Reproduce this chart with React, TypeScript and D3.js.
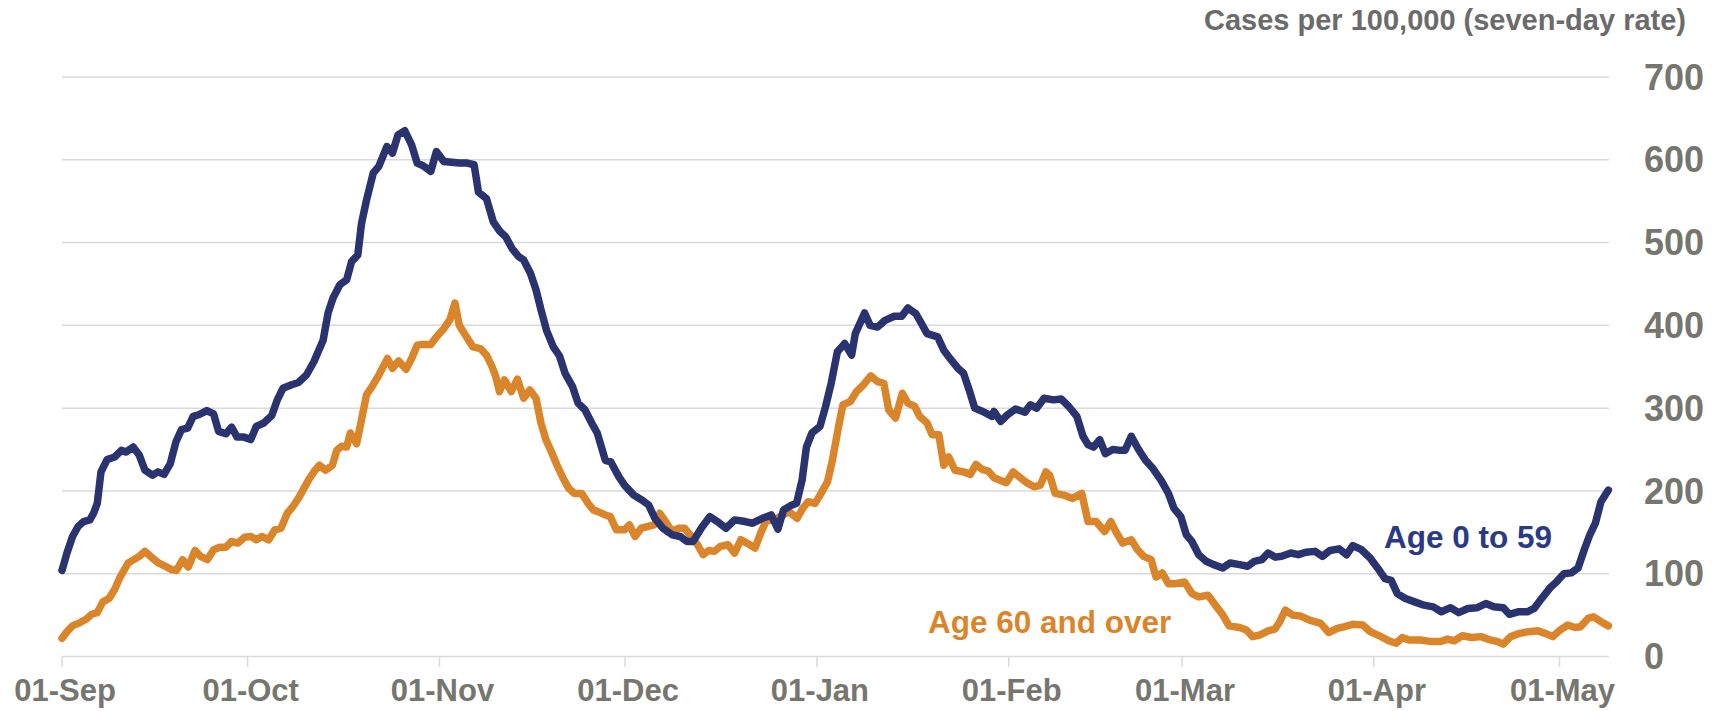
import React from "react";
import * as d3 from "d3";

// days after 01-Sep-2020
const youngDays = [0, 0.8, 1.7, 2.6, 3.5, 4.5, 5.1, 5.7, 6.3, 7.3, 8.5, 9.6, 10.3, 11.5, 12.5, 13.4, 14.6, 15.5, 16.5, 17.5, 18.4, 19.3, 20.3, 21.2, 22.1, 23.4, 24.5, 25.3, 26.5, 27.4, 28.3, 29.4, 30.5, 31.4, 32.6, 33.9, 34.8, 35.7, 37.0, 38.2, 39.5, 40.7, 42.2, 43.0, 43.8, 44.9, 46.0, 46.8, 47.8, 48.4, 49.2, 50.3, 51.2, 52.5, 53.4, 54.3, 55.4, 56.5, 57.4, 58.3, 59.6, 60.5, 61.7, 63.0, 64.2, 65.5, 66.6, 67.3, 68.6, 69.7, 70.7, 71.7, 72.8, 73.8, 74.6, 75.7, 76.6, 77.4, 78.3, 79.4, 80.4, 81.3, 82.5, 83.4, 84.5, 85.6, 86.5, 87.8, 88.7, 90.0, 90.9, 92.4, 93.7, 94.8, 95.8, 97.1, 98.6, 99.9, 101.0, 102.0, 103.3, 104.7, 105.9, 107.3, 108.7, 110.4, 111.6, 113.2, 114.6, 115.7, 116.6, 117.7, 118.7, 119.6, 120.3, 121.2, 122.5, 123.4, 124.3, 125.3, 126.5, 127.6, 128.2, 129.7, 130.6, 131.8, 133.0, 134.5, 135.7, 136.7, 138.0, 138.9, 139.8, 141.5, 142.5, 143.5, 144.8, 145.7, 146.6, 147.5, 148.8, 150.3, 150.6, 151.7, 152.8, 154.1, 155.6, 156.5, 157.5, 158.7, 160.2, 161.5, 162.7, 164.0, 165.0, 165.8, 166.7, 167.7, 168.6, 169.8, 171.1, 171.8, 172.8, 173.9, 175.1, 176.3, 177.6, 178.8, 179.7, 180.8, 181.7, 182.6, 183.7, 184.9, 186.1, 187.6, 188.8, 190.3, 191.6, 192.7, 193.9, 194.9, 196.1, 197.1, 198.6, 199.8, 201.0, 202.5, 203.7, 204.9, 206.4, 207.6, 208.6, 210.0, 211.4, 212.6, 213.8, 214.8, 215.8, 217.1, 218.6, 220.1, 221.6, 222.9, 224.4, 225.7, 227.2, 228.7, 230.1, 231.4, 232.9, 233.9, 235.3, 236.8, 237.9, 239.1, 240.6, 241.5, 242.7, 243.9, 245.0, 246.0, 246.9, 247.8, 248.7, 249.9];
const youngValues = [104, 125, 145, 157, 163, 165, 173, 185, 223, 238, 241, 249, 247, 253, 243, 225, 219, 223, 220, 233, 259, 274, 276, 290, 292, 297, 293, 272, 269, 277, 265, 265, 262, 278, 282, 291, 310, 324, 328, 331, 340, 356, 382, 415, 433, 449, 455, 477, 485, 523, 551, 584, 592, 616, 608, 630, 635, 618, 596, 593, 586, 610, 598, 597, 596, 596, 594, 561, 553, 525, 514, 507, 492, 483, 479, 463, 443, 419, 394, 374, 363, 342, 326, 306, 298, 282, 270, 237, 235, 217, 207, 195, 189, 183, 167, 155, 147, 145, 139, 139, 155, 169, 163, 155, 165, 163, 161, 167, 171, 154, 177, 182, 185, 213, 253, 270, 278, 302, 330, 368, 378, 364, 390, 415, 400, 398, 406, 411, 411, 421, 414, 402, 390, 386, 370, 360, 348, 342, 322, 300, 296, 290, 296, 284, 292, 299, 295, 304, 300, 312, 310, 311, 302, 290, 266, 256, 253, 262, 245, 250, 249, 249, 266, 251, 237, 227, 213, 197, 179, 169, 147, 139, 123, 115, 111, 107, 113, 111, 109, 115, 117, 125, 120, 121, 125, 123, 126, 127, 121, 128, 130, 123, 134, 129, 119, 107, 94, 92, 76, 70, 66, 62, 60, 54, 59, 53, 58, 59, 64, 60, 59, 51, 54, 54, 58, 70, 84, 90, 100, 101, 107, 129, 147, 161, 187, 201];

const olderDays = [0, 0.8, 1.7, 2.9, 3.9, 4.8, 5.7, 6.6, 7.6, 8.5, 9.4, 10.7, 11.6, 12.5, 13.4, 14.6, 15.6, 16.7, 17.7, 18.5, 19.5, 20.4, 21.5, 22.4, 23.5, 24.5, 25.5, 26.5, 27.4, 28.4, 29.5, 30.5, 31.4, 32.3, 33.4, 34.4, 35.4, 36.4, 37.3, 38.2, 39.1, 39.9, 40.8, 41.6, 42.6, 43.7, 44.4, 45.2, 46.0, 46.6, 47.6, 48.4, 49.2, 50.1, 51.2, 52.6, 53.4, 54.4, 55.6, 56.5, 57.4, 58.3, 59.6, 60.5, 61.7, 62.7, 63.5, 64.2, 65.2, 66.4, 67.6, 68.6, 69.5, 70.1, 70.7, 71.5, 72.6, 73.6, 74.6, 75.6, 76.6, 77.4, 78.2, 79.1, 80.0, 81.0, 81.9, 82.8, 84.0, 85.0, 85.9, 86.6, 87.8, 88.6, 89.6, 90.9, 91.7, 92.6, 93.6, 94.6, 95.7, 96.6, 97.7, 98.6, 99.7, 100.6, 101.7, 102.7, 103.6, 104.5, 105.4, 106.4, 107.6, 108.7, 109.7, 110.7, 112.0, 112.9, 113.8, 115.0, 116.3, 117.5, 118.8, 119.7, 120.6, 121.7, 122.5, 123.7, 124.5, 125.4, 126.2, 127.4, 128.4, 129.5, 130.7, 131.8, 132.8, 133.6, 134.7, 135.8, 136.7, 137.8, 138.6, 139.8, 140.6, 141.7, 142.5, 143.3, 144.3, 145.7, 146.8, 147.7, 148.7, 149.7, 150.6, 152.6, 153.7, 154.7, 155.9, 157.1, 158.1, 159.0, 159.6, 160.5, 161.9, 163.3, 164.8, 165.8, 167.1, 168.5, 169.5, 170.3, 171.4, 172.8, 173.8, 174.8, 176.0, 176.8, 177.8, 178.8, 179.9, 181.4, 182.6, 183.7, 185.2, 186.4, 187.6, 188.6, 190.3, 191.4, 192.4, 193.6, 194.9, 196.0, 196.8, 197.7, 198.9, 200.1, 201.6, 203.4, 204.7, 206.1, 207.3, 208.6, 210.2, 211.4, 212.9, 214.4, 215.6, 216.6, 217.7, 219.5, 221.3, 222.8, 223.9, 225.0, 226.3, 227.8, 229.3, 230.8, 232.0, 232.9, 234.1, 235.6, 237.0, 238.5, 239.7, 240.9, 242.1, 243.3, 244.5, 245.4, 246.6, 247.5, 248.7, 249.9];
const olderValues = [22, 30, 37, 41, 45, 51, 53, 66, 70, 81, 96, 113, 117, 121, 127, 119, 113, 109, 105, 104, 117, 108, 128, 121, 117, 129, 132, 132, 139, 137, 144, 145, 141, 145, 141, 153, 155, 173, 181, 191, 203, 214, 224, 231, 225, 231, 249, 254, 253, 270, 257, 286, 316, 326, 340, 360, 348, 357, 347, 360, 376, 377, 377, 386, 396, 407, 427, 400, 388, 374, 372, 364, 350, 338, 320, 334, 320, 335, 312, 322, 312, 282, 262, 247, 231, 215, 203, 197, 197, 185, 177, 175, 171, 169, 153, 153, 159, 145, 155, 157, 159, 173, 161, 151, 155, 155, 145, 135, 123, 128, 127, 133, 135, 125, 141, 137, 131, 149, 164, 165, 170, 175, 167, 179, 187, 185, 195, 211, 237, 274, 304, 308, 320, 328, 339, 332, 330, 298, 288, 318, 306, 302, 290, 282, 268, 268, 231, 241, 225, 223, 220, 232, 226, 224, 216, 210, 223, 217, 210, 205, 207, 223, 219, 197, 195, 191, 197, 163, 163, 151, 163, 151, 137, 141, 129, 121, 117, 96, 101, 88, 88, 90, 76, 72, 74, 62, 50, 37, 35, 32, 24, 26, 31, 33, 42, 56, 50, 49, 44, 40, 29, 34, 36, 39, 38, 30, 25, 19, 16, 23, 20, 20, 18, 18, 21, 19, 25, 23, 24, 20, 18, 15, 24, 28, 30, 31, 28, 24, 32, 38, 35, 36, 46, 48, 42, 37];

const yTicks = [0, 100, 200, 300, 400, 500, 600, 700];

const startDate = new Date(Date.UTC(2020, 8, 1));
const endDate = new Date(Date.UTC(2021, 4, 9));
const dayMs = 864e5;

const font = "'Liberation Sans', Arial, sans-serif";
const navy = "#29336f";
const orange = "#db852b";
const grey = "#76766f";

export default function App() {
  const width = 1727;
  const height = 711;

  const x = d3.scaleUtc().domain([startDate, endDate]).range([62, 1609]);
  const y = d3.scaleLinear().domain([0, 700]).range([656.5, 77]);

  const toPoints = (days: number[], vals: number[]) =>
    days.map((d, i) => [new Date(startDate.getTime() + d * dayMs), vals[i]] as [Date, number]);

  const line = d3
    .line<[Date, number]>()
    .x(d => x(d[0]))
    .y(d => y(d[1]));

  const months = d3.utcMonth.range(startDate, endDate);
  const fmt = d3.utcFormat("%d-%b");

  return (
    <svg
      width={width}
      height={height}
      style={{ position: "absolute", left: 0, top: 0, display: "block", background: "#fff" }}
      fontFamily={font}
    >
      <g className="grid">
        {yTicks.map(t => (
          <line key={t} x1={62} x2={1609} y1={y(t)} y2={y(t)} stroke="#dadada" strokeWidth={1.5} />
        ))}
      </g>
      <g className="xAxis">
        {months.map(m => (
          <g key={m.getTime()} transform={`translate(${x(m)},0)`}>
            <line y1={y(0)} y2={y(0) + 10.5} stroke="#dadada" strokeWidth={1.5} />
            <text x={3} y={701} textAnchor="middle" fontSize={31} fontWeight="bold" fill={grey}>
              {fmt(m)}
            </text>
          </g>
        ))}
      </g>
      <g className="yAxis">
        {yTicks.map(t => (
          <text key={t} x={1644} y={y(t)} dy="0.35em" fontSize={36} fontWeight="bold" fill={grey}>
            {t}
          </text>
        ))}
      </g>
      <text x={1686} y={30} textAnchor="end" fontSize={29} fontWeight="bold" fill="#6b6b6b">
        Cases per 100,000 (seven-day rate)
      </text>

      <path
        d={line(toPoints(olderDays, olderValues)) || ""}
        fill="none"
        stroke={orange}
        strokeWidth={7.5}
        strokeLinejoin="round"
        strokeLinecap="round"
      />
      <path
        d={line(toPoints(youngDays, youngValues)) || ""}
        fill="none"
        stroke={navy}
        strokeWidth={7.5}
        strokeLinejoin="round"
        strokeLinecap="round"
      />

      <text x={1384} y={548} fontSize={31.5} fontWeight="bold" fill="#2b3a86">
        Age 0 to 59
      </text>
      <text x={928} y={633} fontSize={31.5} fontWeight="bold" fill={orange}>
        Age 60 and over
      </text>
    </svg>
  );
}
